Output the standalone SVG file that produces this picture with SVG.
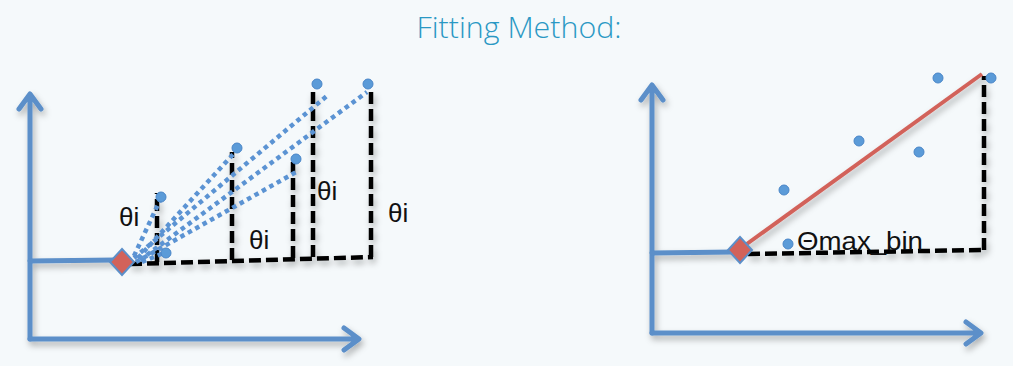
<svg xmlns="http://www.w3.org/2000/svg" width="1013" height="366" viewBox="0 0 1013 366">
<defs>
<style>
.axis{stroke:#5b8fc9;stroke-width:5;fill:none;stroke-linecap:round;stroke-linejoin:round}
.dash{stroke:#000;stroke-width:4.5;fill:none;stroke-dasharray:12 5}
.dot{stroke:#5b93d3;stroke-width:4.5;fill:none;stroke-dasharray:4.5 4}
.pt{fill:#5b9bd8;stroke:#4a86c8;stroke-width:1}
.dia{fill:#d2625a;stroke:#5b8fc9;stroke-width:2}
.lbl{font-family:"Liberation Sans",Arial,sans-serif;font-size:26px;fill:#111}
.title{font-family:"Open Sans","Liberation Sans",sans-serif;font-weight:300;font-size:30px;fill:#2a98c4}
</style>
<filter id="sh" x="-20%" y="-20%" width="140%" height="140%">
<feDropShadow dx="2" dy="4" stdDeviation="3" flood-color="#000" flood-opacity="0.3"/>
</filter>
</defs>
<rect width="1013" height="366" fill="#f5f9fb"/>
<text class="title" x="519" y="38" text-anchor="middle" textLength="205" lengthAdjust="spacingAndGlyphs">Fitting Method:</text>

<g id="left-chart">
<g id="left-axes" filter="url(#sh)">
<path class="axis" d="M30 339 L30 95 M19 109 L30 94 L41 109"/>
<path class="axis" d="M30 339 L358 339 M344 328 L359 339 L344 350"/>
<path class="axis" d="M30 261 L116 260"/>
</g>
<g id="left-connectors">
<g filter="url(#sh)">
<path class="dash" d="M130 264 L373 257"/>
<path class="dash" d="M157 262 L157 193"/>
<path class="dash" d="M232 260 L232 152"/>
<path class="dash" d="M293 258 L293 162"/>
<path class="dash" d="M313 257 L313 88"/>
<path class="dash" d="M371 257 L371 88"/>
</g>
<path class="dot" d="M134 256 L161 198"/>
<path class="dot" d="M138 258 L237 150"/>
<path class="dot" d="M136 262 L298 171"/>
<path class="dot" d="M134 258 L328 95"/>
<path class="dot" d="M140 260 L367 92"/>
<path class="dot" d="M142 262 L166 252"/>
</g>
<g id="left-points">
<circle class="pt" cx="161" cy="197" r="5"/>
<circle class="pt" cx="166" cy="253" r="5"/>
<circle class="pt" cx="237" cy="148" r="5"/>
<circle class="pt" cx="296" cy="159" r="5"/>
<circle class="pt" cx="317" cy="84" r="5"/>
<circle class="pt" cx="368" cy="84" r="5"/>
</g>
<g id="left-origin"><path class="dia" d="M122 249 L134 262 L122 275 L110 262 Z"/></g>
<g id="left-labels">
<text class="lbl" x="119" y="226">θi</text>
<text class="lbl" x="249" y="249">θi</text>
<text class="lbl" x="317" y="200">θi</text>
<text class="lbl" x="388" y="222">θi</text>
</g>
</g>

<g id="right-chart">
<g id="right-axes" filter="url(#sh)">
<path class="axis" d="M652 333 L652 86 M641 100 L652 85 L663 100"/>
<path class="axis" d="M652 333 L980 333 M966 322 L981 333 L966 344"/>
<path class="axis" d="M652 253 L734 252"/>
</g>
<g id="right-connectors" filter="url(#sh)">
<path class="dash" d="M748 254 L983 250"/>
<path class="dash" d="M984 250 L984 76"/>
<path d="M744 246 L982 74" stroke="#d2625a" stroke-width="4" fill="none"/>
</g>
<g id="right-points">
<circle class="pt" cx="938" cy="78" r="5"/>
<circle class="pt" cx="991" cy="78" r="5"/>
<circle class="pt" cx="859" cy="141" r="5"/>
<circle class="pt" cx="919" cy="152" r="5"/>
<circle class="pt" cx="784" cy="190" r="5"/>
<circle class="pt" cx="788" cy="244" r="5"/>
</g>
<g id="right-origin"><path class="dia" d="M740 237 L752 250 L740 263 L728 250 Z"/></g>
<text class="lbl" x="797" y="250" textLength="126" lengthAdjust="spacingAndGlyphs">Θmax_bin</text>
</g>
</svg>
